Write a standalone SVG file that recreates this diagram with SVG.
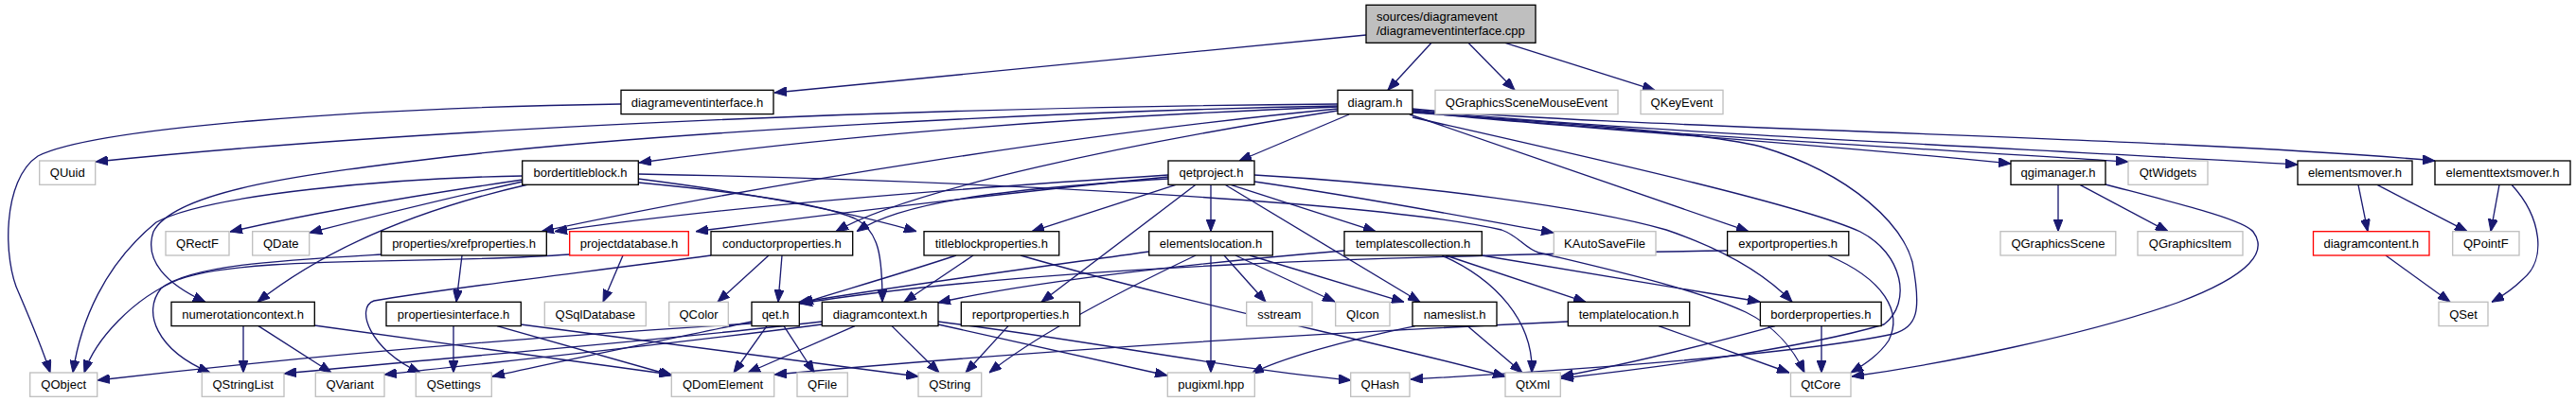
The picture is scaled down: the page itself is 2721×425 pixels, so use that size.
<svg xmlns="http://www.w3.org/2000/svg" width="2721" height="425" viewBox="0 0 2721 425">
<style>
text{font-family:"Liberation Sans",Arial,Helvetica,sans-serif;font-size:13px;fill:#000;text-anchor:middle}
.n rect{fill:#fff;stroke:#000;stroke-width:1.33}
.x rect{fill:#fff;stroke:#bfbfbf;stroke-width:1.33}
.r rect{fill:#fff;stroke:#ff0000;stroke-width:1.33}
.root rect{fill:#bfbfbf;stroke:#000;stroke-width:1.33}
.root text{text-anchor:start}
#edges path{fill:none;stroke:#191970;stroke-width:1.33;marker-end:url(#ah)}
</style>
<defs>
<marker id="ah" viewBox="0 0 13 10" refX="13" refY="5" markerWidth="13" markerHeight="10" markerUnits="userSpaceOnUse" orient="auto">
<path d="M0,0 L13,5 L0,10 z" fill="#191970" stroke="#191970" stroke-width="1"/>
</marker>
</defs>
<rect x="0" y="0" width="2721" height="425" fill="#fff"/>
<g id="edges">
<path d="M1443,37 L818,98"/>
<path d="M1512,45.3 L1466,95.3"/>
<path d="M1551,45.3 L1600,95.3"/>
<path d="M1590,45.3 L1748,95.3"/>
<path d="M656,110 C380,114 100,135 40,165 C2,190 3,275 20,310 C32,338 44,366 53,394"/>
<path d="M1413,110 C900,114 400,140 101,171"/>
<path d="M1413,112 C1100,118 700,140 480,165 C330,183 185,200 162,245 C152,275 175,300 217,319.3"/>
<path d="M1413,113 C1100,125 850,148 675,172"/>
<path d="M1413,115 C1150,140 800,195 572,244.7"/>
<path d="M1413,117 C1200,150 960,200 883,244.7"/>
<path d="M1425,121 L1309,170"/>
<path d="M1489,121 L1847,244.7"/>
<path d="M1492,124 C1650,160 1900,215 1965,245 C2010,268 2020,320 1990,343 C1900,370 1720,392 1649,400"/>
<path d="M1492,119 C1650,130 1800,140 1860,155 C1960,185 2010,240 2020,277 C2030,330 2025,345 2000,353 C1900,375 1650,392 1490,401"/>
<path d="M1492,118 C1650,135 1900,150 2124,173"/>
<path d="M1492,117 C1700,140 2000,155 2248,171"/>
<path d="M1492,116 C1700,138 2100,155 2427,174"/>
<path d="M1492,115 C1700,135 2300,145 2572,170"/>
<path d="M552,186 C420,188 220,205 165,235 C110,280 85,340 77,394"/>
<path d="M552,190 C450,205 330,225 243,245"/>
<path d="M552,192 C470,210 390,230 327,246"/>
<path d="M558,195 C470,215 360,250 272,319.3"/>
<path d="M674,189 C800,205 900,225 968,244.7"/>
<path d="M674,193 C780,203 870,215 905,232 C928,245 932,270 932,319.3"/>
<path d="M674,184 C1000,190 1450,212 1586,243 C1605,250 1610,262 1625,267 C1700,285 1790,305 1844,330 C1875,345 1895,370 1906,394"/>
<path d="M1234,185 C1000,200 750,220 586,244.7"/>
<path d="M1234,187 C1050,205 850,230 735,244.7"/>
<path d="M1234,189 C1050,200 950,215 905,244.7"/>
<path d="M1242,195.3 L1090,244.7"/>
<path d="M1263,195.3 L1100,319.3"/>
<path d="M1279,195.3 L1279,244.7"/>
<path d="M1300,195.3 L1453,244.7"/>
<path d="M1325,192 C1450,210 1550,230 1641,246"/>
<path d="M1294,195.3 L1500,319.3"/>
<path d="M1325,185 C1500,195 1680,220 1760,243 C1810,260 1860,285 1893,319.3"/>
<path d="M1825,265 C1500,270 1100,280 845,321"/>
<path d="M1931,270 C1990,295 2010,330 1995,360 C1985,375 1970,385 1955,394"/>
<path d="M1214,266 C1100,282 950,302 843,320"/>
<path d="M1263,270 C1200,300 1100,350 1045,394"/>
<path d="M1279,270 L1279,394"/>
<path d="M1293,270 L1337,319.3"/>
<path d="M1305,270 L1410,319"/>
<path d="M1320,270 L1483,319.3"/>
<path d="M1527,270 L1675,319.3"/>
<path d="M1523,270 C1580,295 1620,340 1618,394"/>
<path d="M1420,265 C1300,275 1100,295 991,320"/>
<path d="M1565,270 L1859,319"/>
<path d="M1550,344.6 L1608,394"/>
<path d="M1495,344.6 C1420,360 1350,380 1322,395"/>
<path d="M1656,340 C1400,352 1100,370 818,396"/>
<path d="M1752,344.6 L1890,394"/>
<path d="M1924,344.6 L1924,394"/>
<path d="M1875,344.6 C1800,365 1720,385 1649,398"/>
<path d="M2174,195.3 L2174,244.7"/>
<path d="M2197,195.3 L2290,244.7"/>
<path d="M2224,195 C2300,215 2370,232 2380,245 C2395,265 2380,290 2300,320 C2200,355 2050,385 1956,398"/>
<path d="M2491,195.3 L2501,244.7"/>
<path d="M2511,195.3 L2606,244.7"/>
<path d="M2640,195.3 L2631,244.7"/>
<path d="M2653,195.3 C2685,230 2690,275 2665,295 C2655,305 2645,312 2632,319.3"/>
<path d="M2520,270 L2588,319.3"/>
<path d="M488,270 L482,319.3"/>
<path d="M403,269 C300,275 200,280 170,305 C150,330 165,370 222,394"/>
<path d="M602,269 C450,280 260,270 190,295 C140,315 100,360 89,394"/>
<path d="M658,270 L637,319.3"/>
<path d="M812,270 L758,319.3"/>
<path d="M826,270 L822,319.3"/>
<path d="M751,270 C600,290 470,305 395,318 C375,325 390,370 444,394"/>
<path d="M1010,270 C950,290 880,310 846,321"/>
<path d="M1028,270 L955,319.3"/>
<path d="M1078,270 C1250,320 1450,360 1590,398"/>
<path d="M1065,344.6 L1020,394"/>
<path d="M479,344.6 L479,394"/>
<path d="M525,344.6 L710,397"/>
<path d="M550,343 L970,398"/>
<path d="M257,344.6 L257,394"/>
<path d="M273,344.6 L350,394"/>
<path d="M332,344 L709,396"/>
<path d="M794,342 C500,360 250,385 103,402"/>
<path d="M828,344.6 L860,394"/>
<path d="M810,344.6 L775,394"/>
<path d="M794,340 C700,360 600,380 520,398"/>
<path d="M868,340 C700,360 450,380 300,395"/>
<path d="M868,343 C700,365 550,380 406,396"/>
<path d="M903,344.6 L790,394"/>
<path d="M942,344.6 L992,394"/>
<path d="M991,343 L1233,397"/>
<path d="M991,340 C1150,360 1300,390 1427,402"/>
</g>
<g id="root" class="root"><rect x="1443" y="5.3" width="179" height="40"/><text x="1454" y="22.3">sources/diagramevent</text><text x="1454" y="37.3">/diagrameventinterface.cpp</text></g>
<g id="diagrameventinterface_h" class="n"><rect x="656" y="95.3" width="161" height="25.3"/><text x="736.5" y="112.6">diagrameventinterface.h</text></g>
<g id="diagram_h" class="n"><rect x="1413" y="95.3" width="79" height="25.3"/><text x="1452.5" y="112.6">diagram.h</text></g>
<g id="QGraphicsSceneMouseEvent" class="x"><rect x="1516" y="95.3" width="193" height="25.3"/><text x="1612.5" y="112.6">QGraphicsSceneMouseEvent</text></g>
<g id="QKeyEvent" class="x"><rect x="1733" y="95.3" width="87" height="25.3"/><text x="1776.5" y="112.6">QKeyEvent</text></g>
<g id="QUuid" class="x"><rect x="41.7" y="170" width="59" height="25.3"/><text x="71.2" y="187.3">QUuid</text></g>
<g id="bordertitleblock_h" class="n"><rect x="551.7" y="170" width="122.6" height="25.3"/><text x="613" y="187.3">bordertitleblock.h</text></g>
<g id="qetproject_h" class="n"><rect x="1234" y="170" width="91" height="25.3"/><text x="1279.5" y="187.3">qetproject.h</text></g>
<g id="qgimanager_h" class="n"><rect x="2124" y="170" width="100" height="25.3"/><text x="2174" y="187.3">qgimanager.h</text></g>
<g id="QtWidgets" class="x"><rect x="2248" y="170" width="84" height="25.3"/><text x="2290" y="187.3">QtWidgets</text></g>
<g id="elementsmover_h" class="n"><rect x="2427" y="170" width="121" height="25.3"/><text x="2487.5" y="187.3">elementsmover.h</text></g>
<g id="elementtextsmover_h" class="n"><rect x="2572" y="170" width="143" height="25.3"/><text x="2643.5" y="187.3">elementtextsmover.h</text></g>
<g id="QRectF" class="x"><rect x="175" y="244.7" width="67" height="25.3"/><text x="208.5" y="262">QRectF</text></g>
<g id="QDate" class="x"><rect x="266.7" y="244.7" width="60" height="25.3"/><text x="296.7" y="262">QDate</text></g>
<g id="xrefproperties_h" class="n"><rect x="402.7" y="244.7" width="174.6" height="25.3"/><text x="490" y="262">properties/xrefproperties.h</text></g>
<g id="projectdatabase_h" class="r"><rect x="601.7" y="244.7" width="125.6" height="25.3"/><text x="664.5" y="262">projectdatabase.h</text></g>
<g id="conductorproperties_h" class="n"><rect x="751" y="244.7" width="149.7" height="25.3"/><text x="825.8" y="262">conductorproperties.h</text></g>
<g id="titleblockproperties_h" class="n"><rect x="976" y="244.7" width="142.7" height="25.3"/><text x="1047.3" y="262">titleblockproperties.h</text></g>
<g id="elementslocation_h" class="n"><rect x="1213.7" y="244.7" width="130.6" height="25.3"/><text x="1279" y="262">elementslocation.h</text></g>
<g id="templatescollection_h" class="n"><rect x="1420" y="244.7" width="145.3" height="25.3"/><text x="1492.6" y="262">templatescollection.h</text></g>
<g id="KAutoSaveFile" class="x"><rect x="1641.3" y="244.7" width="107.7" height="25.3"/><text x="1695.1" y="262">KAutoSaveFile</text></g>
<g id="exportproperties_h" class="n"><rect x="1824.6" y="244.7" width="128.2" height="25.3"/><text x="1888.7" y="262">exportproperties.h</text></g>
<g id="QGraphicsScene" class="x"><rect x="2113" y="244.7" width="121.8" height="25.3"/><text x="2173.9" y="262">QGraphicsScene</text></g>
<g id="QGraphicsItem" class="x"><rect x="2258" y="244.7" width="111" height="25.3"/><text x="2313.5" y="262">QGraphicsItem</text></g>
<g id="diagramcontent_h" class="r"><rect x="2443.5" y="244.7" width="122.5" height="25.3"/><text x="2504.7" y="262">diagramcontent.h</text></g>
<g id="QPointF" class="x"><rect x="2590.7" y="244.7" width="70.3" height="25.3"/><text x="2625.8" y="262">QPointF</text></g>
<g id="numerotationcontext_h" class="n"><rect x="181" y="319.3" width="151.3" height="25.3"/><text x="256.6" y="336.6">numerotationcontext.h</text></g>
<g id="propertiesinterface_h" class="n"><rect x="408" y="319.3" width="142.3" height="25.3"/><text x="479.1" y="336.6">propertiesinterface.h</text></g>
<g id="QSqlDatabase" class="x"><rect x="575.3" y="319.3" width="107" height="25.3"/><text x="628.8" y="336.6">QSqlDatabase</text></g>
<g id="QColor" class="x"><rect x="706.7" y="319.3" width="62.6" height="25.3"/><text x="738" y="336.6">QColor</text></g>
<g id="qet_h" class="n"><rect x="794" y="319.3" width="50.3" height="25.3"/><text x="819.1" y="336.6">qet.h</text></g>
<g id="diagramcontext_h" class="n"><rect x="868.3" y="319.3" width="122.7" height="25.3"/><text x="929.6" y="336.6">diagramcontext.h</text></g>
<g id="reportproperties_h" class="n"><rect x="1015.3" y="319.3" width="125.4" height="25.3"/><text x="1078" y="336.6">reportproperties.h</text></g>
<g id="sstream" class="x"><rect x="1316.7" y="319.3" width="69.3" height="25.3"/><text x="1351.3" y="336.6">sstream</text></g>
<g id="QIcon" class="x"><rect x="1410.7" y="319.3" width="57.3" height="25.3"/><text x="1439.3" y="336.6">QIcon</text></g>
<g id="nameslist_h" class="n"><rect x="1492" y="319.3" width="89" height="25.3"/><text x="1536.5" y="336.6">nameslist.h</text></g>
<g id="templatelocation_h" class="n"><rect x="1656.3" y="319.3" width="128.4" height="25.3"/><text x="1720.5" y="336.6">templatelocation.h</text></g>
<g id="borderproperties_h" class="n"><rect x="1859.4" y="319.3" width="127.8" height="25.3"/><text x="1923.3" y="336.6">borderproperties.h</text></g>
<g id="QSet" class="x"><rect x="2576" y="319.3" width="52" height="25.3"/><text x="2602" y="336.6">QSet</text></g>
<g id="QObject" class="x"><rect x="31.7" y="394" width="71" height="25.3"/><text x="67.2" y="411.3">QObject</text></g>
<g id="QStringList" class="x"><rect x="213.3" y="394" width="86.7" height="25.3"/><text x="256.6" y="411.3">QStringList</text></g>
<g id="QVariant" class="x"><rect x="333.3" y="394" width="72.7" height="25.3"/><text x="369.6" y="411.3">QVariant</text></g>
<g id="QSettings" class="x"><rect x="439.3" y="394" width="80" height="25.3"/><text x="479.3" y="411.3">QSettings</text></g>
<g id="QDomElement" class="x"><rect x="709.3" y="394" width="108.4" height="25.3"/><text x="763.5" y="411.3">QDomElement</text></g>
<g id="QFile" class="x"><rect x="842" y="394" width="53.3" height="25.3"/><text x="868.6" y="411.3">QFile</text></g>
<g id="QString" class="x"><rect x="970" y="394" width="66.7" height="25.3"/><text x="1003.3" y="411.3">QString</text></g>
<g id="pugixml_hpp" class="x"><rect x="1233.3" y="394" width="92" height="25.3"/><text x="1279.3" y="411.3">pugixml.hpp</text></g>
<g id="QHash" class="x"><rect x="1426.7" y="394" width="62.3" height="25.3"/><text x="1457.8" y="411.3">QHash</text></g>
<g id="QtXml" class="x"><rect x="1590" y="394" width="58.3" height="25.3"/><text x="1619.1" y="411.3">QtXml</text></g>
<g id="QtCore" class="x"><rect x="1891.5" y="394" width="63.5" height="25.3"/><text x="1923.2" y="411.3">QtCore</text></g>
</svg>
